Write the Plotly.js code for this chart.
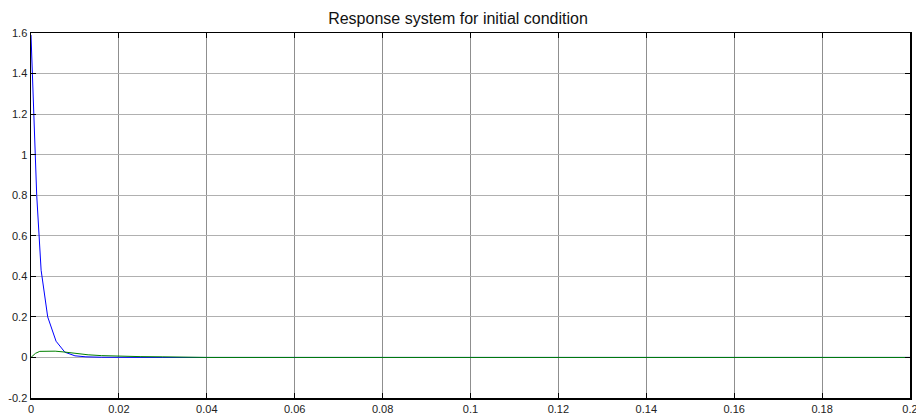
<!DOCTYPE html>
<html>
<head>
<meta charset="utf-8">
<script src="https://cdn.plot.ly/plotly-3.0.1.min.js"></script>
<style>html,body{margin:0;padding:0;background:#fff}#chart{width:916px;height:416px}</style>
</head>
<body>
<div id="chart"></div>
<script>
var timeBlue = [0, 0.0013, 0.0023, 0.0038, 0.0057, 0.0077, 0.0100, 0.0125, 0.016, 0.020, 0.025, 0.030, 0.040, 0.060, 0.100, 0.150, 0.200];
var valuesBlue = [1.59, 0.80, 0.43, 0.20, 0.080, 0.026, 0.008, 0.003, 0.001, 0, 0, 0, 0, 0, 0, 0, 0];
var timeGreen = [0, 0.0010, 0.0020, 0.0035, 0.0055, 0.0075, 0.0100, 0.0130, 0.016, 0.020, 0.025, 0.030, 0.035, 0.040, 0.060, 0.100, 0.150, 0.200];
var valuesGreen = [0, 0.020, 0.030, 0.032, 0.031, 0.027, 0.020, 0.013, 0.009, 0.006, 0.004, 0.003, 0.001, 0, 0, 0, 0, 0];
var xTicks = [0, 0.02, 0.04, 0.06, 0.08, 0.1, 0.12, 0.14, 0.16, 0.18, 0.2];
var yTicks = [-0.2, 0, 0.2, 0.4, 0.6, 0.8, 1, 1.2, 1.4, 1.6];
var titleText = 'Response system for initial condition';

var traces = [
  {x: timeBlue, y: valuesBlue, mode: 'lines', line: {color: '#0000ff', width: 1}, hoverinfo: 'skip'},
  {x: timeGreen, y: valuesGreen, mode: 'lines', line: {color: '#008000', width: 1}, hoverinfo: 'skip'}
];

var layout = {
  width: 916, height: 416,
  margin: {l: 31, r: 6, t: 33, b: 18, pad: 0},
  paper_bgcolor: '#fff', plot_bgcolor: '#fff',
  showlegend: false,
  font: {family: 'Liberation Sans, Arial, sans-serif', size: 11, color: '#222'},
  title: {text: titleText, x: 0.5, xanchor: 'center', y: 1, yref: 'paper', yanchor: 'bottom', pad: {b: 9}, font: {size: 16, color: '#111'}},
  xaxis: {
    range: [0, 0.2], tickvals: xTicks, ticktext: xTicks.map(String),
    showgrid: true, gridcolor: '#8f8f8f', gridwidth: 1,
    zeroline: false, showline: true, linecolor: '#000', linewidth: 1.5, mirror: 'ticks',
    ticks: 'inside', ticklen: 5, tickcolor: '#000', tickwidth: 1,
    ticklabeloverflow: 'allow',
    tickfont: {size: 11, color: '#222'}
  },
  yaxis: {
    range: [-0.2, 1.6], tickvals: yTicks, ticktext: yTicks.map(String),
    showgrid: true, gridcolor: '#b0b0b0', gridwidth: 1,
    zeroline: false, showline: true, linecolor: '#000', linewidth: 1.5, mirror: 'ticks',
    ticks: 'inside', ticklen: 5, tickcolor: '#000', tickwidth: 1,
    ticklabeloverflow: 'allow',
    tickfont: {size: 11, color: '#222'}
  }
};

Plotly.newPlot('chart', traces, layout, {displayModeBar: false, staticPlot: true});
</script>
</body>
</html>
